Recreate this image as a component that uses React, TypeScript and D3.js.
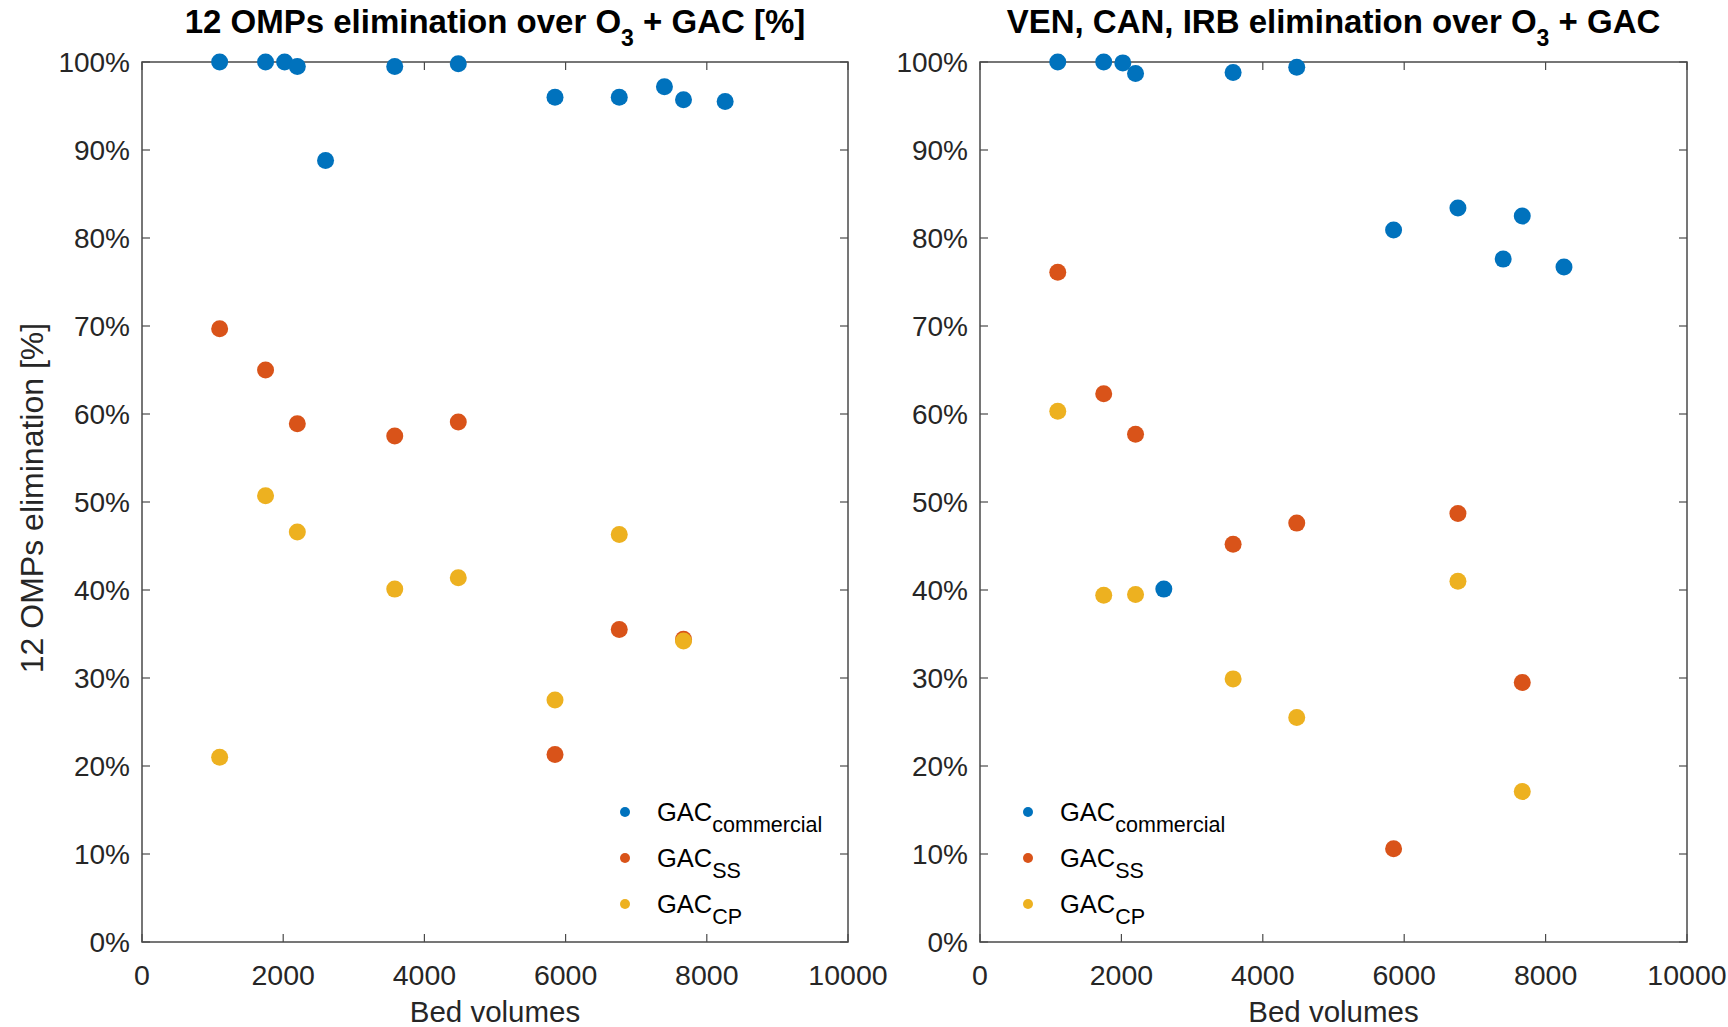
import React from 'react';
import * as d3 from 'd3';

// bed volumes of the sampling points
const bvCommercial = [1100, 1750, 2020, 2200, 2600, 3580, 4480, 5850, 6760, 7400, 7670, 8260];
const bvOthers = [1100, 1750, 2200, 3580, 4480, 5850, 6760, 7670];

// left panel: 12 OMPs elimination [%]
const leftCommercial = [100, 100, 100, 99.5, 88.8, 99.5, 99.8, 96.0, 96.0, 97.2, 95.7, 95.5];
const leftSS = [69.7, 65.0, 58.9, 57.5, 59.1, 21.3, 35.5, 34.4];
const leftCP = [21.0, 50.7, 46.6, 40.1, 41.4, 27.5, 46.3, 34.2];

// right panel: VEN, CAN, IRB elimination [%]
const rightCommercial = [100, 100, 99.9, 98.7, 40.1, 98.8, 99.4, 80.9, 83.4, 77.6, 82.5, 76.7];
const rightSS = [76.1, 62.3, 57.7, 45.2, 47.6, 10.6, 48.7, 29.5];
const rightCPbv = [1100, 1750, 2200, 3580, 4480, 6760, 7670];
const rightCP = [60.3, 39.4, 39.5, 29.9, 25.5, 41.0, 17.1];

const xTicks = [0, 2000, 4000, 6000, 8000, 10000];
const yTicks = [0, 10, 20, 30, 40, 50, 60, 70, 80, 90, 100];

const colors = ['#0072BD', '#D95319', '#EDB120'];
const legendSubs = ['commercial', 'SS', 'CP'];

const FONT = 'Liberation Sans, Arial, Helvetica, sans-serif';
const TXT = '#262626';
const AX = '#4a4a4a';

const top = 62, bottom = 942;

const Panel = ({left, right, title, series, yLabel, legendX}) => {
    const x = d3.scaleLinear().domain([0, 10000]).range([left, right]);
    const y = d3.scaleLinear().domain([0, 100]).range([bottom, top]);
    const tick = 8;

    return (
        <g fontFamily={FONT} fill={TXT}>
            <rect x={left} y={top} width={right - left} height={bottom - top}
                  fill="none" stroke={AX} strokeWidth={1.5} />
            {xTicks.map((t) => (
                <g key={'x' + t}>
                    <line x1={x(t)} x2={x(t)} y1={bottom} y2={bottom - tick} stroke={AX} strokeWidth={1.2} />
                    <line x1={x(t)} x2={x(t)} y1={top} y2={top + tick} stroke={AX} strokeWidth={1.2} />
                    <text x={x(t)} y={985} textAnchor="middle" fontSize={28.5}>{t}</text>
                </g>
            ))}
            {yTicks.map((t) => (
                <g key={'y' + t}>
                    <line x1={left} x2={left + tick} y1={y(t)} y2={y(t)} stroke={AX} strokeWidth={1.2} />
                    <line x1={right} x2={right - tick} y1={y(t)} y2={y(t)} stroke={AX} strokeWidth={1.2} />
                    <text x={left - 12} y={y(t) + 10} textAnchor="end" fontSize={28}>{t + '%'}</text>
                </g>
            ))}
            <text x={(left + right) / 2} y={1022} textAnchor="middle" fontSize={29.5}>Bed volumes</text>
            {yLabel && (
                <text transform={`translate(43,${(top + bottom) / 2 - 4}) rotate(-90)`} textAnchor="middle" fontSize={32}>
                    {yLabel}
                </text>
            )}
            <text x={(left + right) / 2} y={33} textAnchor="middle" fontSize={33} fontWeight="bold" fill="#000">
                {title}<tspan>O</tspan>
                <tspan fontSize={23} dy={13}>3</tspan>
                <tspan dy={-13}>{series.suffix}</tspan>
            </text>
            {series.data.map((s, i) =>
                s.y.map((v, j) => (
                    <circle key={i + '-' + j} cx={x(s.x[j])} cy={y(v)} r={8.5} fill={colors[i]} />
                ))
            )}
            {legendSubs.map((sub, i) => (
                <g key={sub} transform={`translate(${legendX},${812 + i * 46})`}>
                    <circle cx={0} cy={0} r={5} fill={colors[i]} />
                    <text x={32} y={9} fontSize={25.5} fill="#000">
                        GAC<tspan fontSize={21.5} dy={11}>{sub}</tspan>
                    </text>
                </g>
            ))}
        </g>
    );
};

const App = () => {
    return (
        <svg width={1728} height={1027} style={{position: 'absolute', left: 0, top: 0, background: '#fff'}}>
            <Panel left={142} right={848} legendX={625}
                   title="12 OMPs elimination over "
                   yLabel="12 OMPs elimination [%]"
                   series={{
                       suffix: ' + GAC [%]',
                       data: [
                           {x: bvCommercial, y: leftCommercial},
                           {x: bvOthers, y: leftSS},
                           {x: bvOthers, y: leftCP},
                       ],
                   }} />
            <Panel left={980} right={1687} legendX={1028}
                   title="VEN, CAN, IRB elimination over "
                   yLabel={null}
                   series={{
                       suffix: ' + GAC',
                       data: [
                           {x: bvCommercial, y: rightCommercial},
                           {x: bvOthers, y: rightSS},
                           {x: rightCPbv, y: rightCP},
                       ],
                   }} />
        </svg>
    );
};

export default App;
